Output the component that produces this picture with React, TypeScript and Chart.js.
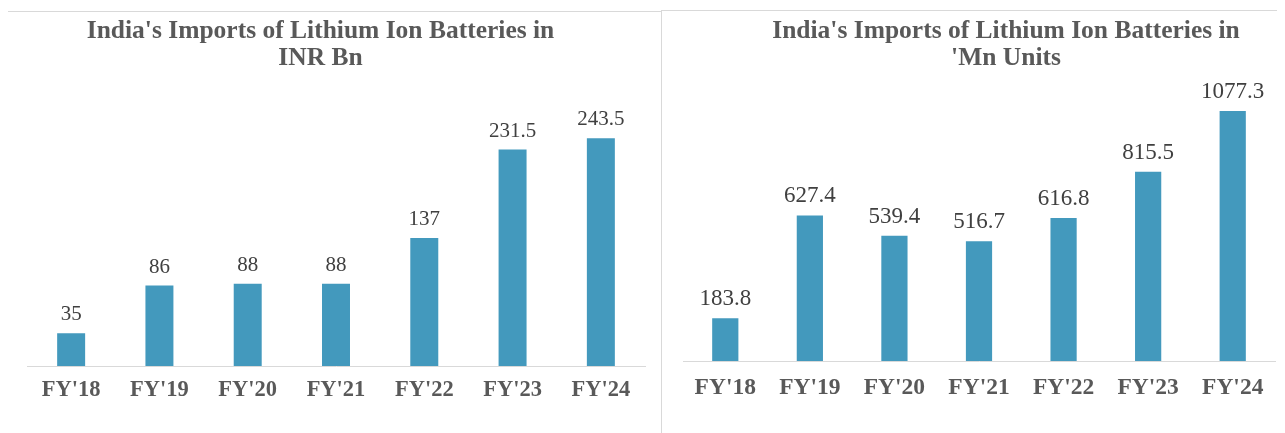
import React, { useEffect, useRef } from "react";
import { Chart, registerables } from "chart.js";

Chart.register(...registerables);

const categories = ["FY'18", "FY'19", "FY'20", "FY'21", "FY'22", "FY'23", "FY'24"];
const inrValues = [35, 86, 88, 88, 137, 231.5, 243.5];
const unitValues = [183.8, 627.4, 539.4, 516.7, 616.8, 815.5, 1077.3];
const leftTitle = ["India's Imports of Lithium Ion Batteries in", "INR Bn"];
const rightTitle = ["India's Imports of Lithium Ion Batteries in", "'Mn Units"];

const BAR = "#4399BD";
const FONT = "'Liberation Serif', 'Times New Roman', serif";

const titlePlugin = {
  id: "customTitle",
  afterDraw(chart: any, _args: any, opts: any) {
    const ctx = chart.ctx;
    ctx.save();
    ctx.font = `bold ${opts.size}px ${FONT}`;
    ctx.fillStyle = "#595959";
    ctx.textAlign = "center";
    ctx.textBaseline = "alphabetic";
    (opts.lines as string[]).forEach((line, i) => {
      ctx.fillText(line, opts.cx, opts.baseline + i * opts.lineGap);
    });
    ctx.restore();
  },
};

const labelPlugin = {
  id: "valueLabels",
  afterDatasetsDraw(chart: any, _args: any, opts: any) {
    const ctx = chart.ctx;
    const meta = chart.getDatasetMeta(0);
    const data = chart.data.datasets[0].data as number[];
    ctx.save();
    ctx.font = `${opts.size}px ${FONT}`;
    ctx.fillStyle = "#404040";
    ctx.textAlign = "center";
    ctx.textBaseline = "alphabetic";
    meta.data.forEach((bar: any, i: number) => {
      ctx.fillText(String(data[i]), bar.x, bar.y - opts.gap);
    });
    ctx.restore();
  },
};

type Cfg = {
  values: number[];
  title: string[];
  width: number;
  height: number;
  yMax: number;
  barPct: number;
  padding: { left: number; right: number; top: number; bottom: number };
  tickPad: number;
  tickSize: number;
  titleCx: number;
  titleBase: number;
  labelSize: number;
};

function BarChart({ cfg }: { cfg: Cfg }) {
  const ref = useRef<HTMLCanvasElement | null>(null);
  useEffect(() => {
    if (!ref.current) return;
    const chart = new Chart(ref.current, {
      type: "bar",
      data: {
        labels: categories,
        datasets: [
          {
            data: cfg.values,
            backgroundColor: BAR,
            borderWidth: 0,
            categoryPercentage: 1,
            barPercentage: cfg.barPct,
          },
        ],
      },
      options: {
        responsive: false,
        animation: false,
        layout: { padding: cfg.padding },
        plugins: {
          legend: { display: false },
          tooltip: { enabled: false },
          title: { display: false },
          customTitle: {
            lines: cfg.title,
            cx: cfg.titleCx,
            baseline: cfg.titleBase,
            lineGap: 27,
            size: 25.5,
          },
          valueLabels: { size: cfg.labelSize, gap: 13 },
        } as any,
        scales: {
          x: {
            grid: { display: false, drawTicks: false },
            border: { display: true, color: "#d9d9d9", width: 1 },
            ticks: {
              color: "#595959",
              padding: cfg.tickPad,
              font: { family: FONT, size: cfg.tickSize, weight: "bold" },
            },
          },
          y: { display: false, min: 0, max: cfg.yMax },
        },
      },
      plugins: [titlePlugin, labelPlugin],
    });
    return () => chart.destroy();
  }, [cfg]);
  return (
    <canvas
      ref={ref}
      width={cfg.width}
      height={cfg.height}
      style={{ width: cfg.width, height: cfg.height, display: "block" }}
    />
  );
}

const leftCfg: Cfg = {
  values: inrValues,
  title: leftTitle,
  width: 653,
  height: 421,
  yMax: 300,
  barPct: 0.317,
  padding: { left: 20, right: 15, top: 73.5, bottom: 18 },
  tickPad: 11,
  tickSize: 22.5,
  titleCx: 313.5,
  titleBase: 26,
  labelSize: 21,
};

const rightCfg: Cfg = {
  values: unitValues,
  title: rightTitle,
  width: 623,
  height: 422,
  yMax: 1200,
  barPct: 0.31,
  padding: { left: 21, right: 10, top: 71.6, bottom: 17.8 },
  tickPad: 13,
  tickSize: 23.5,
  titleCx: 344,
  titleBase: 27,
  labelSize: 23,
};

export default function App() {
  return (
    <div style={{ position: "relative", margin: "-8px 0 0 -8px", width: 1285, height: 433, overflow: "hidden", background: "#fff" }}>
      <div style={{ position: "absolute", left: 6, top: 11, width: 655, height: 440, borderLeft: "1px solid #d9d9d9", borderTop: "1px solid #d9d9d9", boxSizing: "border-box" }} />
      <div style={{ position: "absolute", left: 661, top: 10, width: 640, height: 440, borderLeft: "1px solid #d9d9d9", borderTop: "1px solid #d9d9d9", boxSizing: "border-box" }} />
      <div style={{ position: "absolute", left: 7, top: 12 }}>
        <BarChart cfg={leftCfg} />
      </div>
      <div style={{ position: "absolute", left: 662, top: 11 }}>
        <BarChart cfg={rightCfg} />
      </div>
    </div>
  );
}
